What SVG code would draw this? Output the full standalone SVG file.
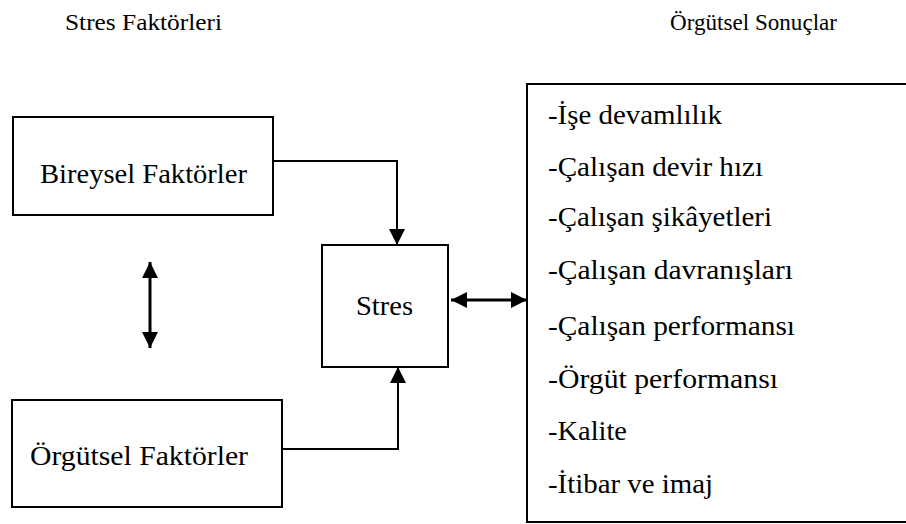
<svg xmlns="http://www.w3.org/2000/svg" width="906" height="524" viewBox="0 0 906 524">
<style>
.box{fill:#fff;stroke:#000;stroke-width:2}
.t{font-family:"Liberation Serif","Times New Roman",serif;font-size:28px;fill:#000}
.h{font-family:"Liberation Serif","Times New Roman",serif;font-size:24px;fill:#000}
.c{fill:none;stroke:#000;stroke-width:2}
.d{fill:none;stroke:#000;stroke-width:3}
</style>
<defs>
<marker id="ah" viewBox="0 0 10 10" refX="10" refY="5" markerWidth="16" markerHeight="16" markerUnits="userSpaceOnUse" orient="auto-start-reverse">
<path d="M0,0 L10,5 L0,10 Z" fill="#000"/>
</marker>
</defs>
<rect width="906" height="524" fill="#fff"/>
<g id="titles">
<text class="h" x="65" y="30" textLength="157" lengthAdjust="spacingAndGlyphs">Stres Faktörleri</text>
<text class="h" x="670" y="30" textLength="167" lengthAdjust="spacingAndGlyphs">Örgütsel Sonuçlar</text>
</g>
<g id="connectors">
<polyline class="c" points="273,161 397,161 397,245" marker-end="url(#ah)"/>
<polyline class="c" points="282,449 398,449 398,367" marker-end="url(#ah)"/>
<line class="d" x1="150" y1="262" x2="150" y2="348" marker-start="url(#ah)" marker-end="url(#ah)"/>
<line class="d" x1="451" y1="300" x2="527" y2="300" marker-start="url(#ah)" marker-end="url(#ah)"/>
</g>
<g id="bireysel">
<rect class="box" x="13" y="117" width="260" height="98"/>
<text class="t" x="40" y="183" textLength="207" lengthAdjust="spacingAndGlyphs">Bireysel Faktörler</text>
</g>
<g id="orgutsel">
<rect class="box" x="12" y="400" width="270" height="107"/>
<text class="t" x="30" y="465" textLength="218" lengthAdjust="spacingAndGlyphs">Örgütsel Faktörler</text>
</g>
<g id="stres">
<rect class="box" x="322" y="245" width="126" height="122"/>
<text class="t" x="356" y="315" textLength="57" lengthAdjust="spacingAndGlyphs">Stres</text>
</g>
<g id="sonuclar">
<rect class="box" x="527" y="84" width="400" height="438"/>
<text class="t" x="548" y="124" textLength="174" lengthAdjust="spacingAndGlyphs">-İşe devamlılık</text>
<text class="t" x="548" y="176" textLength="215" lengthAdjust="spacingAndGlyphs">-Çalışan devir hızı</text>
<text class="t" x="548" y="226" textLength="224" lengthAdjust="spacingAndGlyphs">-Çalışan şikâyetleri</text>
<text class="t" x="548" y="279" textLength="245" lengthAdjust="spacingAndGlyphs">-Çalışan davranışları</text>
<text class="t" x="548" y="335" textLength="247" lengthAdjust="spacingAndGlyphs">-Çalışan performansı</text>
<text class="t" x="548" y="388" textLength="230" lengthAdjust="spacingAndGlyphs">-Örgüt performansı</text>
<text class="t" x="548" y="440" textLength="79" lengthAdjust="spacingAndGlyphs">-Kalite</text>
<text class="t" x="548" y="493" textLength="165" lengthAdjust="spacingAndGlyphs">-İtibar ve imaj</text>
</g>
</svg>
